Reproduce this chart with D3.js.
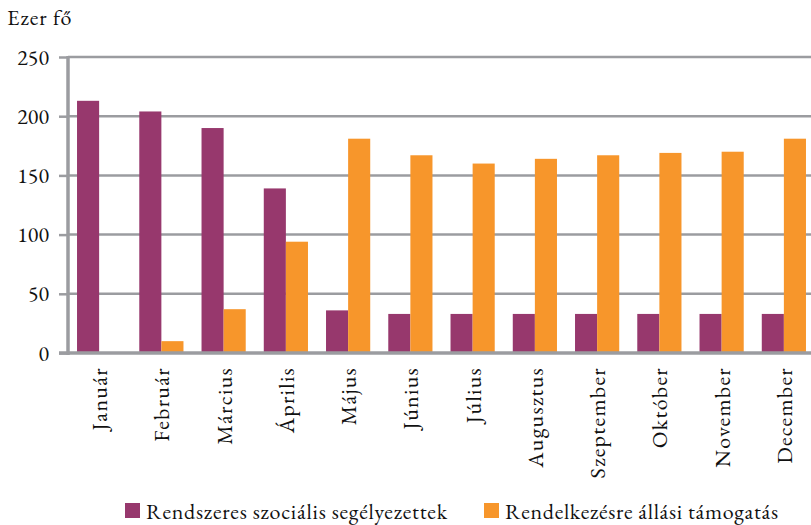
<!DOCTYPE html>
<html>
<head>
<meta charset="utf-8">
<script src="https://cdn.jsdelivr.net/npm/d3@7"></script>
<style>
  body { margin: 0; background: #fff; }
</style>
</head>
<body>
<div id="chart"></div>
<script>
const months = ['Január', 'Február', 'Március', 'Április', 'Május', 'Június',
  'Július', 'Augusztus', 'Szeptember', 'Október', 'November', 'December'];
const seriesNames = ['Rendszeres szociális segélyezettek', 'Rendelkezésre állási támogatás'];
const szocialis = [213, 204, 190, 139, 36, 33, 33, 33, 33, 33, 33, 33];
const rendelkezes = [0, 10, 37, 94, 181, 167, 160, 164, 167, 169, 170, 181];
const yTicks = [0, 50, 100, 150, 200, 250];
const colors = ['#97386d', '#f7962b'];

const width = 811, height = 525;
const plotLeft = 68, plotRight = 815, plotTop = 57, plotBottom = 353;
const fontFamily = '"EB Garamond", "Liberation Serif", serif';

const svg = d3.select('#chart').append('svg')
  .attr('width', width)
  .attr('height', height);

const x = d3.scaleBand()
  .domain(months)
  .range([plotLeft, plotRight])
  .paddingInner(0.29)
  .paddingOuter(0.145);

const y = d3.scaleLinear()
  .domain([0, 250])
  .range([plotBottom, plotTop]);

// gridlines
svg.append('g')
  .selectAll('line')
  .data(yTicks.slice(1))
  .enter().append('line')
  .attr('x1', plotLeft)
  .attr('x2', width)
  .attr('y1', d => y(d))
  .attr('y2', d => y(d))
  .attr('stroke', '#9b9ca0')
  .attr('stroke-width', 2.5);

// bars
const half = x.bandwidth() / 2;
const groups = svg.append('g');
[szocialis, rendelkezes].forEach((vals, s) => {
  groups.append('g')
    .selectAll('rect')
    .data(vals)
    .enter().append('rect')
    .attr('x', (d, i) => x(months[i]) + s * half)
    .attr('y', d => y(d))
    .attr('width', half)
    .attr('height', d => y(0) - y(d))
    .attr('fill', colors[s]);
});

// y axis
const yAxis = svg.append('g')
  .attr('transform', `translate(${plotLeft},0)`)
  .call(d3.axisLeft(y).tickValues(yTicks).tickSize(9).tickPadding(10));
yAxis.select('.domain').remove();
yAxis.selectAll('line').attr('stroke', '#9b9ca0').attr('stroke-width', 2.5);
yAxis.selectAll('text')
  .style('font-family', fontFamily)
  .style('font-size', '22px')
  .attr('fill', '#111');

svg.append('line')
  .attr('x1', plotLeft).attr('x2', plotLeft)
  .attr('y1', y(250) - 1).attr('y2', plotBottom + 2)
  .attr('stroke', '#9b9ca0')
  .attr('stroke-width', 3.5);

// baseline
svg.append('line')
  .attr('x1', plotLeft - 9).attr('x2', width)
  .attr('y1', plotBottom).attr('y2', plotBottom)
  .attr('stroke', '#9b9ca0')
  .attr('stroke-width', 3.5);

// month labels
svg.append('g')
  .selectAll('text')
  .data(months)
  .enter().append('text')
  .attr('transform', d => `translate(${x(d) + x.bandwidth() / 2 + 8},367) rotate(-90)`)
  .attr('text-anchor', 'end')
  .style('font-family', fontFamily)
  .style('font-size', '22px')
  .style('letter-spacing', '1.3px')
  .attr('fill', '#111')
  .text(d => d);

// unit label
svg.append('text')
  .attr('x', 7)
  .attr('y', 25)
  .style('font-family', fontFamily)
  .style('font-size', '22px')
  .style('letter-spacing', '1px')
  .attr('fill', '#111')
  .text('Ezer fő');

// legend
const legendX = [125, 484];
const legendLen = [301, 273];
seriesNames.forEach((name, i) => {
  svg.append('rect')
    .attr('x', legendX[i])
    .attr('y', 503)
    .attr('width', 15)
    .attr('height', 15)
    .attr('fill', colors[i]);
  svg.append('text')
    .attr('x', legendX[i] + 21)
    .attr('y', 519)
    .attr('textLength', legendLen[i])
    .attr('lengthAdjust', 'spacing')
    .style('font-family', fontFamily)
    .style('font-size', '22px')
    .attr('fill', '#111')
    .text(name);
});
</script>
</body>
</html>
